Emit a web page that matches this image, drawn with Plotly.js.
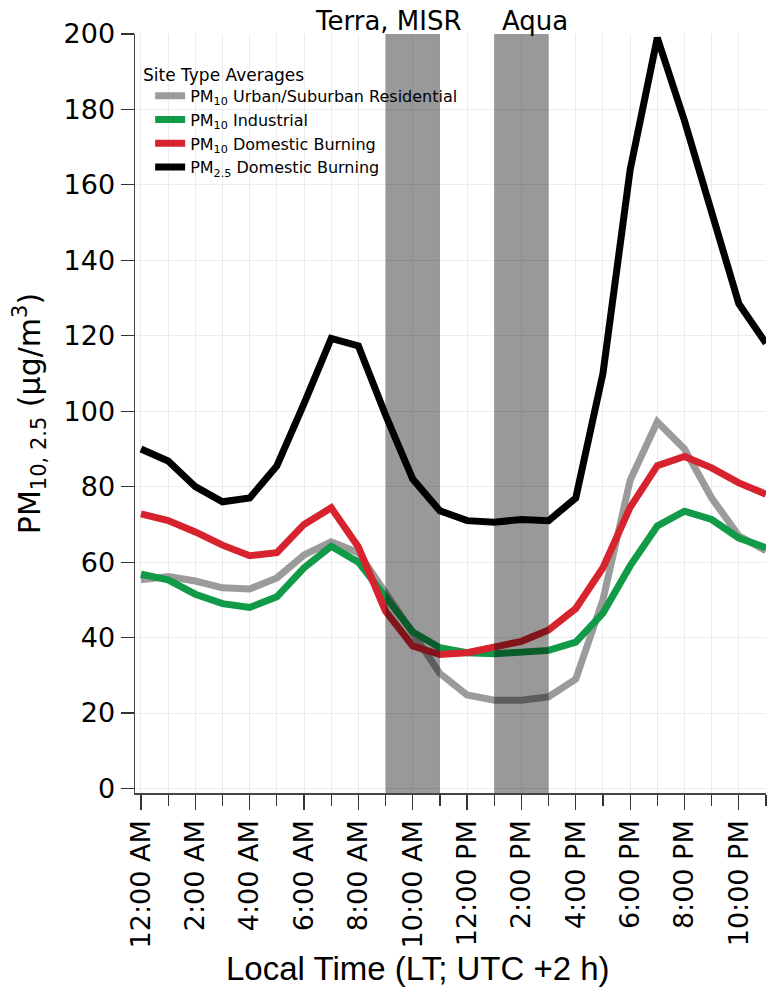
<!DOCTYPE html>
<html>
<head>
<meta charset="utf-8">
<script src="https://cdn.plot.ly/plotly-3.0.1.min.js"></script>
<style>html,body{margin:0;padding:0;background:#fff;}#chart{width:776px;height:998px;}</style>
</head>
<body>
<div id="chart"></div>
<script>
// Hours of day (local time)
const hours = [0,1,2,3,4,5,6,7,8,9,10,11,12,13,14,15,16,17,18,19,20,21,22,23];

// Series values (µg/m3)
const pm10Urban = [55.3,56.2,55,53.2,52.9,55.8,61.9,65.4,62.5,52,41,30.5,24.8,23.4,23.4,24.3,29,50,81.7,97.2,90,77,67,63];
const pm10Industrial = [56.8,55.3,51.5,49,48,50.8,58.5,64.2,60,51,41.5,37.3,36,35.7,36,36.6,38.8,46.5,59,69.6,73.5,71.3,66.4,63.8];
const pm10Domestic = [72.8,71,68,64.5,61.7,62.5,70,74.4,64,47,37.8,35.5,36,37.3,39,42,47.7,58.5,74.5,85.6,88,85,81,78];
const pm25Domestic = [90,86.8,80,76,77,85.5,102,119.3,117.3,99,82,73.6,71,70.6,71.3,71,77,110,164,199,177,152.7,128.5,118];

// Tick labels
const tickVals = [0,2,4,6,8,10,12,14,16,18,20,22];
const tickText = ["12:00 AM","2:00 AM","4:00 AM","6:00 AM","8:00 AM","10:00 AM","12:00 PM","2:00 PM","4:00 PM","6:00 PM","8:00 PM","10:00 PM"];
const yTickVals = [0,20,40,60,80,100,120,140,160,180,200];

// Satellite overpass windows
const bandNames = ["Terra, MISR","Aqua"];
const bandStart = [9,13];
const bandEnd = [11,15];
const bandLabelX = [9.1,14.5];

const seriesNames = [
  "PM<sub>10</sub> Urban/Suburban Residential",
  "PM<sub>10</sub> Industrial",
  "PM<sub>10</sub> Domestic Burning",
  "PM<sub>2.5</sub> Domestic Burning"
];
const seriesData = [pm10Urban, pm10Industrial, pm10Domestic, pm25Domestic];
const seriesColors = ["#9b9b9b","#119a47","#d7232d","#000000"];
const legendTitle = "Site Type Averages";
const xTitle = "Local Time (LT; UTC +2 h)";
const yTitle = "PM<sub>10, 2.5</sub> (μg/m<sup>3</sup>)";

const FONT = "DejaVu Sans, sans-serif";

const traces = seriesData.map((ys, i) => ({
  type: "scatter",
  mode: "lines",
  x: hours,
  y: ys,
  name: seriesNames[i],
  line: {color: seriesColors[i], width: 7},
  hoverinfo: "skip"
}));

const shapes = bandStart.map((s, i) => ({
  type: "rect", xref: "x", yref: "paper",
  x0: s, x1: bandEnd[i], y0: 0, y1: 1,
  fillcolor: "rgba(0,0,0,0.4)", line: {width: 0}, layer: "above"
}));

const annotations = bandNames.map((t, i) => ({
  text: t, xref: "x", yref: "paper", x: bandLabelX[i], y: 1,
  xanchor: "center", yanchor: "bottom", showarrow: false,
  yshift: -4, font: {family: FONT, size: 26, color: "#000"}
}));
annotations.push({
  text: legendTitle, xref: "paper", yref: "paper", x: 0.010, y: 0.946,
  xanchor: "left", yanchor: "middle", showarrow: false,
  font: {family: FONT, size: 17, color: "#000"}
});
annotations.push({
  text: xTitle, xref: "paper", yref: "paper", x: 0.4485, y: -0.2306,
  xanchor: "center", yanchor: "middle", showarrow: false,
  font: {family: "Liberation Sans, Arial, sans-serif", size: 33, color: "#000"}
});

const layout = {
  width: 776, height: 998,
  margin: {l: 135, r: 10, t: 34, b: 205},
  paper_bgcolor: "#fff", plot_bgcolor: "#fff",
  showlegend: true,
  legend: {
    x: 0.024, y: 0.941, xanchor: "left", yanchor: "top",
    bgcolor: "rgba(0,0,0,0)",
    font: {family: FONT, size: 16, color: "#000"},
    tracegroupgap: 0
  },
  xaxis: {
    range: [-0.22, 23],
    tickmode: "array", tickvals: tickVals, ticktext: tickText,
    tickangle: -90,
    ticks: "outside", ticklen: 15, tickwidth: 1.2, tickcolor: "#333",
    tickfont: {family: FONT, size: 27, color: "#000"},
    showline: true, linecolor: "#444", linewidth: 1.5,
    showgrid: true, gridcolor: "#ececec", gridwidth: 1,
    minor: {dtick: 1, tick0: 0, ticks: "outside", ticklen: 11, tickwidth: 1.2, tickcolor: "#333", showgrid: true, gridcolor: "#ececec", gridwidth: 1},
    zeroline: false
  },
  yaxis: {
    range: [-1.2, 200],
    tickmode: "array", tickvals: yTickVals,
    ticks: "outside", ticklen: 13, tickwidth: 1.2, tickcolor: "#333",
    tickfont: {family: FONT, size: 27, color: "#000"},
    showline: true, linecolor: "#444", linewidth: 1.5,
    showgrid: true, gridcolor: "#ececec", gridwidth: 1,
    zeroline: false,
    title: {text: yTitle, font: {family: FONT, size: 30, color: "#000"}, standoff: 14}
  },
  shapes: shapes,
  annotations: annotations
};

Plotly.newPlot("chart", traces, layout, {displayModeBar: false, staticPlot: true});
</script>
</body>
</html>
